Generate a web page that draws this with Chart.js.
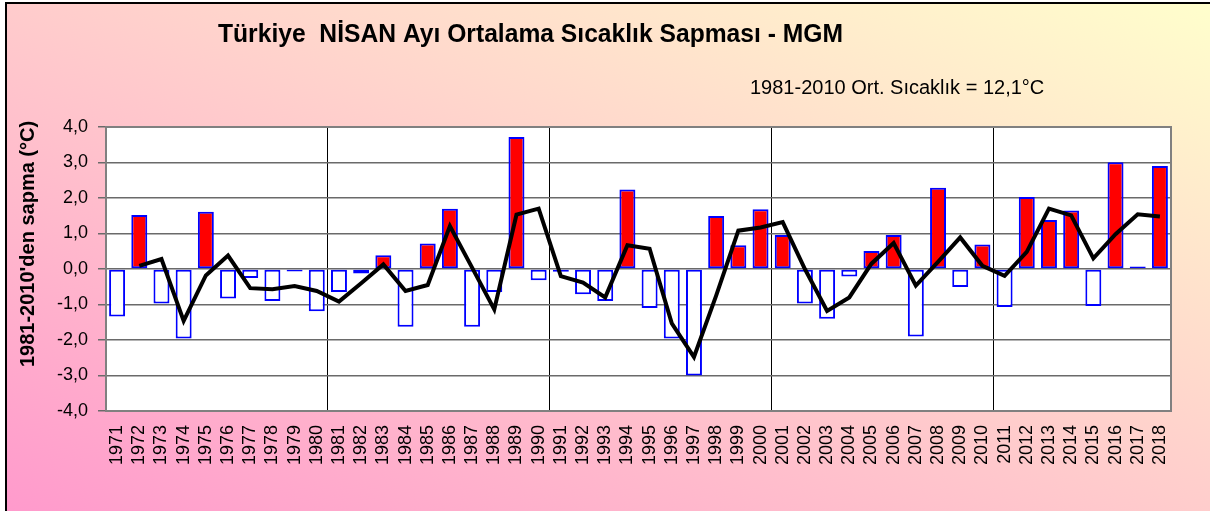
<!DOCTYPE html>
<html>
<head>
<meta charset="utf-8">
<script src="https://cdn.jsdelivr.net/npm/chart.js@4.4.1/dist/chart.umd.min.js"></script>
<style>
  html, body { margin: 0; padding: 0; background: #ffffff; }
  #wrap { position: absolute; left: 0; top: 0; width: 1210px; height: 511px; overflow: hidden; }
  #bg { position: absolute; left: 5px; top: 2px; width: 1220px; height: 520px;
        border-left: 2px solid #000; border-top: 2px solid #000;
        background: linear-gradient(to top right, #ff99cc 0%, #ffcccc 50%, #ffffcc 100%); }
  canvas { position: absolute; left: 0; top: 0; }
</style>
</head>
<body>
<div id="wrap">
  <div id="bg"></div>
  <canvas id="c" width="1210" height="511"></canvas>
</div>
<script>
const years = ["1971","1972","1973","1974","1975","1976","1977","1978","1979","1980",
  "1981","1982","1983","1984","1985","1986","1987","1988","1989","1990",
  "1991","1992","1993","1994","1995","1996","1997","1998","1999","2000",
  "2001","2002","2003","2004","2005","2006","2007","2008","2009","2010",
  "2011","2012","2013","2014","2015","2016","2017","2018"];

const anomaly = [-1.34, 1.52, -0.97, -1.96, 1.61, -0.83, -0.25, -0.90, -0.07, -1.19,
  -0.65, -0.13, 0.39, -1.63, 0.72, 1.70, -1.63, -0.65, 3.72, -0.32,
  -0.08, -0.71, -0.90, 2.24, -1.10, -1.96, -3.00, 1.49, 0.67, 1.68,
  0.96, -0.97, -1.40, -0.21, 0.51, 0.96, -1.90, 2.29, -0.51, 0.69,
  -1.07, 2.03, 1.38, 1.65, -1.04, 3.01, 0.07, 2.90];

const trendLine = [null, 0.09, 0.28, -1.46, -0.18, 0.38, -0.54, -0.57, -0.48, -0.62,
  -0.92, -0.40, 0.13, -0.62, -0.45, 1.21, 0.04, -1.14, 1.53, 1.70,
  -0.20, -0.38, -0.80, 0.67, 0.57, -1.53, -2.48, -0.75, 1.08, 1.17,
  1.32, 0.00, -1.18, -0.80, 0.15, 0.73, -0.47, 0.20, 0.89, 0.09,
  -0.19, 0.48, 1.70, 1.51, 0.30, 0.98, 1.54, 1.48];

const titleText = "Türkiye  NİSAN Ayı Ortalama Sıcaklık Sapması - MGM";
const subtitleText = "1981-2010 Ort. Sıcaklık = 12,1°C";
const yTitleText = "1981-2010'den sapma (°C)";

const FONT = "'Liberation Sans', Arial, sans-serif";

const decor = {
  id: 'decor',
  beforeDraw(chart) {
    const { ctx, chartArea: a } = chart;
    ctx.save();
    ctx.fillStyle = '#ffffff';
    ctx.fillRect(a.left, a.top, a.right - a.left, a.bottom - a.top);
    ctx.restore();
  },
  afterDraw(chart) {
    const { ctx, chartArea: a } = chart;
    ctx.save();
    ctx.strokeStyle = '#808080';
    ctx.lineWidth = 2;
    ctx.strokeRect(a.left, a.top, a.right - a.left, a.bottom - a.top);
    ctx.fillStyle = '#000';
    ctx.textBaseline = 'alphabetic';
    ctx.textAlign = 'left';
    ctx.font = "bold 25px " + FONT;
    ctx.fillText(titleText, 218, 42, 625);
    ctx.font = "20px " + FONT;
    ctx.fillText(subtitleText, 750, 94, 298);
    ctx.translate(34, 244);
    ctx.rotate(-Math.PI / 2);
    ctx.textAlign = 'center';
    ctx.font = "bold 20px " + FONT;
    ctx.fillText(yTitleText, 0, 0, 248);
    ctx.restore();
  }
};

new Chart(document.getElementById('c'), {
  type: 'bar',
  data: {
    labels: years,
    datasets: [
      {
        type: 'line',
        data: trendLine,
        borderColor: '#000000',
        borderWidth: 4,
        pointRadius: 0,
        tension: 0,
        fill: false,
        order: 0
      },
      {
        type: 'bar',
        data: anomaly,
        backgroundColor: (c) => (c.raw >= 0 ? '#ff0000' : '#ffffff'),
        borderColor: '#0000ff',
        borderWidth: 2,
        borderSkipped: false,
        barPercentage: 0.72,
        categoryPercentage: 1.0,
        order: 1
      }
    ]
  },
  options: {
    responsive: false,
    animation: false,
    layout: { padding: { top: 127, right: 39, left: 0, bottom: 0 } },
    plugins: { legend: { display: false }, tooltip: { enabled: false } },
    scales: {
      x: {
        offset: true,
        afterFit: (s) => { s.height = 100; },
        grid: {
          offset: true,
          drawTicks: false,
          color: (c) => (c.index % 10 === 0 && c.index > 0 ? '#000000' : 'rgba(0,0,0,0)'),
          lineWidth: 1
        },
        border: { display: false },
        ticks: {
          autoSkip: false,
          minRotation: 90,
          maxRotation: 90,
          padding: 14,
          color: '#000',
          font: { family: FONT, size: 18 }
        }
      },
      y: {
        min: -4,
        max: 4,
        afterFit: (s) => { s.width = 106; },
        grid: { color: '#6a6a6a', lineWidth: 1.5, tickLength: 8 },
        border: { display: false },
        ticks: {
          stepSize: 1,
          padding: 10,
          color: '#000',
          font: { family: FONT, size: 18 },
          callback: (v) => v.toFixed(1).replace('.', ',')
        }
      }
    }
  },
  plugins: [decor]
});
</script>
</body>
</html>
